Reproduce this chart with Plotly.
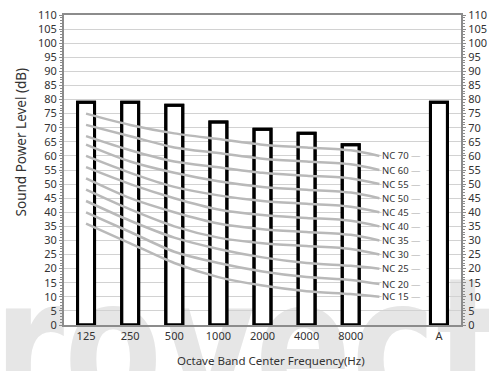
import base64
import plotly.graph_objects as go

# ---------------- data ----------------
bar_labels = ["125", "250", "500", "1000", "2000", "4000", "8000", "A"]
bar_pos = [0, 1, 2, 3, 4, 5, 6, 8]
bar_values = [79, 79, 78, 72, 69.5, 68, 64, 79]

curve_x = [0, 1, 2, 3, 4, 5, 6, 6.65]
nc_names = ["NC 70", "NC 60", "NC 55", "NC 50", "NC 45", "NC 40",
            "NC 35", "NC 30", "NC 25", "NC 20", "NC 15"]
nc_70 = [75, 71, 68, 66, 64, 63, 62, 60]
nc_60 = [71, 67, 63, 61, 59, 58, 57, 55]
nc_55 = [67, 62, 58, 56, 54, 53, 52, 50]
nc_50 = [64, 58, 54, 51, 49, 48, 47, 45]
nc_45 = [60, 54, 49, 46, 44, 43, 42, 40]
nc_40 = [56, 50, 45, 41, 39, 38, 37, 35]
nc_35 = [52, 45, 40, 36, 34, 33, 32, 30]
nc_30 = [48, 41, 35, 31, 29, 28, 27, 25]
nc_25 = [44, 37, 31, 27, 24, 22, 21, 20]
nc_20 = [40, 33, 26, 22, 19, 17, 16, 14.5]
nc_15 = [36, 29, 22, 17, 14, 12, 11, 10]
nc_curves = [nc_70, nc_60, nc_55, nc_50, nc_45, nc_40,
             nc_35, nc_30, nc_25, nc_20, nc_15]

FONT = "Noto Sans"
TXT = "#333333"
AXC = "#8c8c8c"

fig = go.Figure()

# white-filled bars
fig.add_trace(go.Bar(x=bar_pos, y=bar_values, width=0.385,
                     marker=dict(color="white", line=dict(color="black", width=3)),
                     showlegend=False, hoverinfo="skip"))

# NC curves
for name, vals in zip(nc_names, nc_curves):
    fig.add_trace(go.Scatter(x=curve_x, y=vals, mode="lines",
                             line=dict(color="#b9b9b9", width=2.5, shape="spline", smoothing=0.8),
                             showlegend=False, hoverinfo="skip"))

# bar outlines on top of curves
fig.add_trace(go.Bar(x=bar_pos, y=bar_values, width=0.385,
                     marker=dict(color="rgba(0,0,0,0)", line=dict(color="black", width=3)),
                     showlegend=False, hoverinfo="skip"))

# dummy trace for right axis
fig.add_trace(go.Scatter(x=[0], y=[0], yaxis="y2", mode="markers",
                         marker=dict(opacity=0), showlegend=False, hoverinfo="skip"))

# NC labels
for name, vals in zip(nc_names, nc_curves):
    fig.add_annotation(x=curve_x[-1] + 0.04, y=vals[-1], xref="x", yref="y",
                       xanchor="left", yanchor="middle", showarrow=False,
                       text=name + " <span style='color:#a8a8a8'>—</span>",
                       bgcolor="white", borderpad=0, width=44, height=11, align="left",
                       font=dict(family=FONT, size=9.5, color=TXT))

# axis titles
fig.add_annotation(x=0.521, y=-0.115, xref="paper", yref="paper", showarrow=False,
                   xanchor="center", yanchor="middle",
                   text="Octave Band Center Frequency(Hz)",
                   font=dict(family=FONT, size=11.5, color=TXT))
fig.add_annotation(x=-0.106, y=0.592, xref="paper", yref="paper", showarrow=False,
                   xanchor="center", yanchor="middle",
                   text="Sound Power Level (dB)", textangle=-90,
                   font=dict(family=FONT, size=13.5, color=TXT))

# watermark
svg = ('<svg xmlns="http://www.w3.org/2000/svg" width="489" height="371">'
       '<text x="-6" y="410" font-family="DejaVu Sans" font-weight="bold" font-size="185" '
       'fill="#e6e6e6" textLength="510" lengthAdjust="spacingAndGlyphs">rovect</text></svg>')
uri = "data:image/svg+xml;base64," + base64.b64encode(svg.encode()).decode()
fig.add_layout_image(source=uri, xref="paper", yref="paper",
                     x=-64 / 397, y=1 + 15 / 310, sizex=489 / 397, sizey=371 / 310,
                     xanchor="left", yanchor="top", sizing="stretch", layer="below")

yax = dict(range=[0, 110], dtick=5, tickfont=dict(family=FONT, size=11, color=TXT),
           showline=True, linecolor=AXC, linewidth=2, ticks="outside", ticklen=3,
           tickcolor=AXC, minor=dict(dtick=1, ticks="outside", ticklen=2, tickcolor=AXC),
           fixedrange=True, zeroline=False, automargin=False)

fig.update_layout(
    width=489, height=371,
    margin=dict(l=64, r=28, t=15, b=46, autoexpand=False),
    paper_bgcolor="white", plot_bgcolor="rgba(0,0,0,0)",
    barmode="overlay", showlegend=False,
    xaxis=dict(range=[-0.5, 8.5], tickvals=bar_pos, ticktext=bar_labels,
               tickfont=dict(family=FONT, size=11, color=TXT),
               showline=True, linecolor=AXC, linewidth=2, mirror=True,
               ticks="", showgrid=False, zeroline=False, fixedrange=True, automargin=False),
    yaxis=dict(**yax, showgrid=True, gridcolor="#d2d2d2", gridwidth=1),
    yaxis2=dict(**yax, overlaying="y", side="right", showgrid=False),
)

fig.write_html("out.html", config={"displayModeBar": False},
               post_script="document.body.style.margin='0';document.body.style.overflow='hidden';")
